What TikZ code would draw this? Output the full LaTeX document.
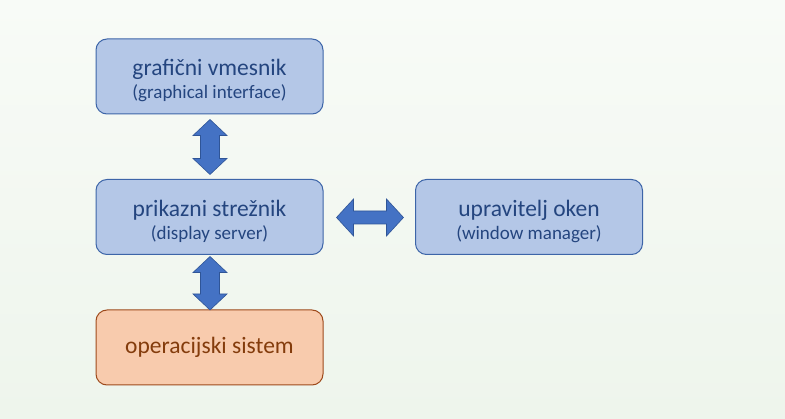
\documentclass[tikz,border=0pt]{standalone}
\usepackage{fontspec}
\setmainfont{Carlito}
\usetikzlibrary{calc}
\definecolor{bgtop}{HTML}{F8FBF7}
\definecolor{bgbot}{HTML}{EEF5EC}
\definecolor{boxfill}{HTML}{B4C7E7}
\definecolor{boxline}{HTML}{3D65A8}
\definecolor{boxtext}{HTML}{24457F}
\definecolor{osfill}{HTML}{F8CBAD}
\definecolor{osline}{HTML}{9E4A1C}
\definecolor{ostext}{HTML}{843C0C}
\definecolor{arrfill}{HTML}{4472C4}
\definecolor{arrline}{HTML}{2F5597}
\tikzset{
  box/.style={draw=boxline, line width=1pt, fill=boxfill, rounded corners=11pt,
    minimum width=227pt, minimum height=75pt, inner sep=0pt, align=center, text=boxtext,
    font=\fontsize{23.5}{23}\selectfont},
  osbox/.style={box, draw=osline, fill=osfill, text=ostext},
  fatarrow/.style={fill=arrfill, draw=arrline, line width=0.6pt, line join=miter},
}
\newcommand{\subline}[1]{{\fontsize{19}{23}\selectfont #1}}
\newcommand{\topstrut}{\rule{0pt}{25pt}}
\begin{document}
\begin{tikzpicture}[x=1pt,y=1pt]
\shade[top color=bgtop, bottom color=bgbot] (0,0) rectangle (785,418);
\useasboundingbox (0,0) rectangle (785,418);
\node[box] (g) at (209.5,341.5) {\topstrut grafični vmesnik\\\subline{(graphical interface)}};
\node[box] (p) at (209.5,201) {\topstrut prikazni strežnik\\\subline{(display server)}};
\node[box] (w) at (529,201) {\topstrut upravitelj oken\\\subline{(window manager)}};
\node[osbox] (os) at (209.5,70.5) {\raisebox{-1.5pt}{operacijski sistem}};
% vertical arrow g <-> p
\draw[fatarrow] ($(g.south)+(0.5,-5)$) -- ++(17,-16) -- ++(-7.5,0) -- ++(0,-23) -- ++(7.5,0)
  -- ++(-17,-16) -- ++(-17,16) -- ++(7.5,0) -- ++(0,23) -- ++(-7.5,0) -- cycle;
% vertical arrow p <-> os
\draw[fatarrow] ($(p.south)+(0.5,-1.5)$) -- ++(17,-16) -- ++(-7.5,0) -- ++(0,-21.5) -- ++(7.5,0)
  -- ++(-17,-16) -- ++(-17,16) -- ++(7.5,0) -- ++(0,21.5) -- ++(-7.5,0) -- cycle;
% horizontal arrow p <-> w
\draw[fatarrow] ($(p.east)+(13,-0.5)$) -- ++(17,18.5) -- ++(0,-12) -- ++(33,0) -- ++(0,12)
  -- ++(17,-18.5) -- ++(-17,-18.5) -- ++(0,12) -- ++(-33,0) -- ++(0,-12) -- cycle;
\end{tikzpicture}
\end{document}
